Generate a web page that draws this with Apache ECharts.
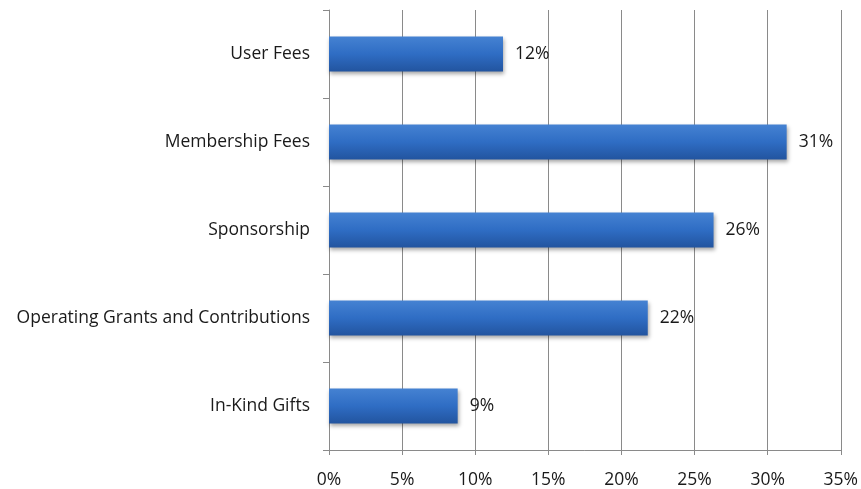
<!DOCTYPE html>
<html>
<head>
<meta charset="utf-8">
<script src="https://cdn.jsdelivr.net/npm/echarts@6/dist/echarts.min.js"></script>
<style>
html, body { margin: 0; padding: 0; background: #fff; }
#chart { width: 861px; height: 489px; }
</style>
</head>
<body>
<div id="chart"></div>
<script>
// categories top to bottom
const categories = ['User Fees', 'Membership Fees', 'Sponsorship', 'Operating Grants and Contributions', 'In-Kind Gifts']
// share of revenue (%)
const shares = [11.9, 31.3, 26.3, 21.8, 8.8]
const shareLabels = ['12%', '31%', '26%', '22%', '9%']

const chart = echarts.init(document.getElementById('chart'))

const barColor = new echarts.graphic.LinearGradient(0, 0, 0, 1, [
	{ offset: 0, color: '#4582d2' },
	{ offset: 0.5, color: '#2f6dc4' },
	{ offset: 1, color: '#22549f' }
])

let option = {
	animation: false,
	grid: {
		left: 329,
		right: 20,
		top: 10,
		bottom: 39,
		containLabel: false
	},
	xAxis: {
		type: 'value',
		min: 0,
		max: 35,
		interval: 5,
		axisLine: { show: true, lineStyle: { color: '#8a8a8a', width: 1 } },
		axisTick: { show: true, length: 5, lineStyle: { color: '#8a8a8a' } },
		splitLine: { show: true, lineStyle: { color: '#8a8a8a', width: 1 } },
		axisLabel: {
			margin: 21,
			color: '#1a1a1a',
			fontFamily: 'Open Sans',
			fontSize: 17.5,
			formatter: v => v + '%'
		}
	},
	yAxis: {
		type: 'category',
		inverse: true,
		data: categories,
		axisLine: { show: true, lineStyle: { color: '#8a8a8a', width: 1 } },
		axisTick: { show: true, length: 6, lineStyle: { color: '#8a8a8a' } },
		axisLabel: {
			margin: 19,
			color: '#1a1a1a',
			fontFamily: 'Open Sans',
			fontSize: 17.5
		}
	},
	series: [
		{
			type: 'bar',
			data: shares,
			barWidth: 35,
			itemStyle: {
				color: barColor,
				shadowColor: 'rgba(0,0,0,0.35)',
				shadowBlur: 4,
				shadowOffsetX: 1,
				shadowOffsetY: 2
			},
			label: {
				show: true,
				position: 'right',
				distance: 12,
				color: '#1a1a1a',
				fontFamily: 'Open Sans',
				fontSize: 17.5,
				formatter: p => shareLabels[p.dataIndex]
			}
		}
	]
}
chart.setOption(option)
</script>
</body>
</html>
